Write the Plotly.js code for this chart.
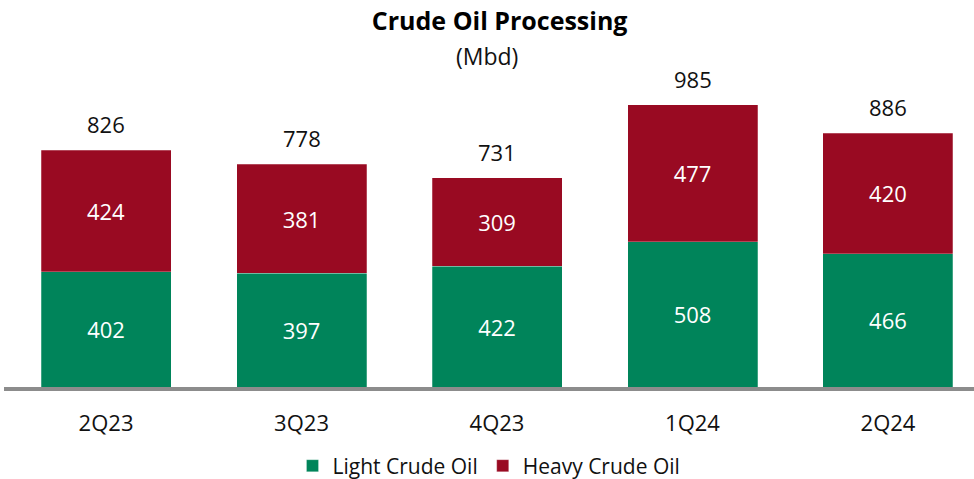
<!DOCTYPE html>
<html>
<head>
<meta charset="utf-8">
<script src="https://cdn.plot.ly/plotly-3.0.1.min.js"></script>
<style>html,body{margin:0;padding:0;background:#fff;}#chart{width:974px;height:479px;}</style>
</head>
<body>
<div id="chart"></div>
<script>
const categories = ["2Q23", "3Q23", "4Q23", "1Q24", "2Q24"];
const lightCrude = [402, 397, 422, 508, 466];
const heavyCrude = [424, 381, 309, 477, 420];
const totals = [826, 778, 731, 985, 886];

const GREEN = "#00845A";
const RED = "#990A22";
const FONT = "Open Sans, Noto Sans, sans-serif";

const traces = [
  {
    type: "bar", name: "Light Crude Oil", x: categories, y: lightCrude,
    marker: {color: GREEN, line: {color: "rgba(255,255,255,0.5)", width: 0.5}},
    text: lightCrude.map(String), textposition: "inside", insidetextanchor: "middle",
    textfont: {color: "#ffffff", size: 22, family: FONT}, width: 0.665, hoverinfo: "none"
  },
  {
    type: "bar", name: "Heavy Crude Oil", x: categories, y: heavyCrude,
    marker: {color: RED, line: {color: "rgba(255,255,255,0.5)", width: 0.5}},
    text: heavyCrude.map(String), textposition: "inside", insidetextanchor: "middle",
    textfont: {color: "#ffffff", size: 22, family: FONT}, width: 0.665, hoverinfo: "none"
  }
];

const annotations = categories.map((c, i) => ({
  x: c, y: totals[i], xref: "x", yref: "y", text: String(totals[i]),
  showarrow: false, yanchor: "bottom", yshift: 9,
  font: {size: 22, color: "#111", family: FONT}
}));
annotations.push({
  xref: "paper", yref: "paper", x: 0.498, y: 1, yanchor: "middle", yshift: 16,
  text: "(Mbd)", showarrow: false, font: {size: 23, color: "#111", family: FONT}
});

const layout = {
  width: 974, height: 479,
  margin: {l: 4, r: 0, t: 72, b: 92},
  barmode: "stack",
  paper_bgcolor: "#ffffff", plot_bgcolor: "#ffffff",
  title: {text: "<b>Crude Oil Processing</b>", x: 0.513, xanchor: "center", y: 0.956, yanchor: "middle",
          font: {size: 25, color: "#000", family: FONT}},
  xaxis: {
    type: "category", range: [-0.522, 4.44], showline: true, linecolor: "#8C8C8C", linewidth: 4,
    showgrid: false, zeroline: false, ticks: "", ticklabelstandoff: 14,
    tickfont: {size: 22, color: "#111", family: FONT}, fixedrange: true, automargin: false
  },
  yaxis: {range: [0, 1100], visible: false, showgrid: false, zeroline: false, fixedrange: true},
  showlegend: true,
  legend: {orientation: "h", x: 0.5, xanchor: "center", yref: "container", y: 0.027, yanchor: "middle",
           font: {size: 21, color: "#111", family: FONT}, traceorder: "normal", itemwidth: 30},
  annotations: annotations
};

Plotly.newPlot("chart", traces, layout, {displayModeBar: false, staticPlot: true});
</script>
</body>
</html>
